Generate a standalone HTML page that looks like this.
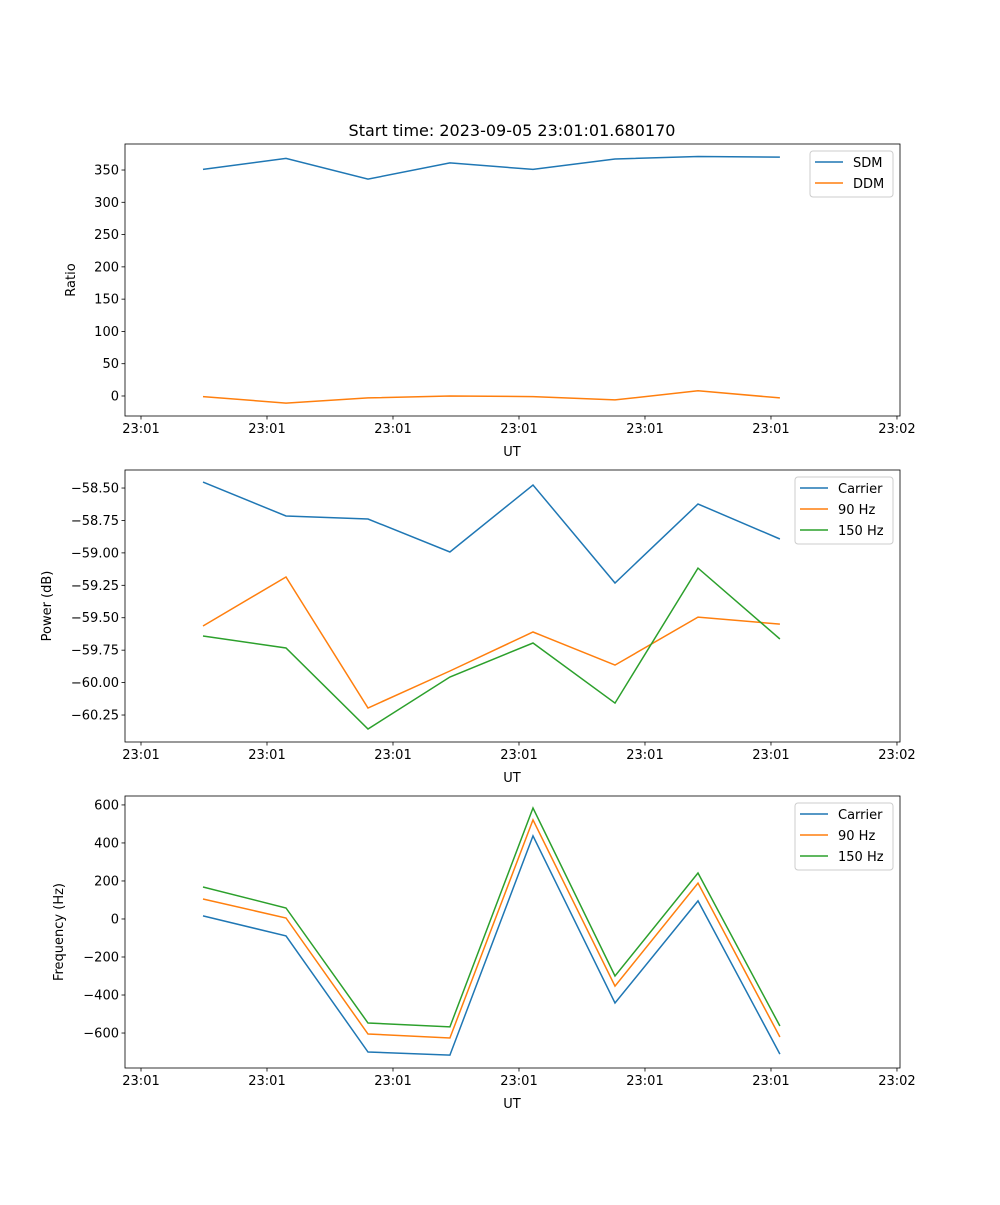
<!DOCTYPE html>
<html><head><meta charset="utf-8"><style>
body{margin:0;background:#fff}
svg text{font-family:"DejaVu Sans","Liberation Sans",sans-serif;fill:#000}
</style></head><body>
<svg id="fig" width="1000" height="1200" xmlns="http://www.w3.org/2000/svg">
<rect width="1000" height="1200" fill="#fff"/>
<text x="512" y="136" font-size="16" text-anchor="middle">Start time: 2023-09-05 23:01:01.680170</text>
</svg>
<script>
const times = [4.92, 11.51, 18.02, 24.52, 31.11, 37.62, 44.21, 50.71];
const xTickVals = [0, 10, 20, 30, 40, 50, 60];
const xTickLabels = ["23:01","23:01","23:01","23:01","23:01","23:01","23:02"];
const sdm = [351, 368, 336, 361, 351, 367, 371, 370];
const ddm = [-1, -11, -3, 0, -1, -6, 8, -3];
const powCarrier = [-58.454, -58.716, -58.739, -58.993, -58.477, -59.232, -58.623, -58.893];
const pow90 = [-59.564, -59.186, -60.196, -59.911, -59.610, -59.865, -59.495, -59.549];
const pow150 = [-59.641, -59.733, -60.358, -59.957, -59.695, -60.158, -59.117, -59.664];
const freqCarrier = [16, -89, -700, -716, 437, -442, 95, -711];
const freq90 = [105, 5, -605, -626, 521, -353, 189, -621];
const freq150 = [168, 58, -547, -568, 584, -300, 242, -563];
const yTicks1 = [0, 50, 100, 150, 200, 250, 300, 350];
const yTicks2 = [-60.25, -60.0, -59.75, -59.5, -59.25, -59.0, -58.75, -58.5];
const yTicks3 = [-600, -400, -200, 0, 200, 400, 600];

const NS = "http://www.w3.org/2000/svg";
const svg = document.getElementById('fig');
function mk(tag, attrs, parent){const e=document.createElementNS(NS,tag);for(const k in attrs)e.setAttribute(k,attrs[k]);(parent||svg).appendChild(e);return e;}
const X0=125, X1=900, XMIN=-1.27, XMAX=60.24;
const xs = v => X0 + (v-XMIN)/(XMAX-XMIN)*(X1-X0);
const C = {blue:'#1f77b4', orange:'#ff7f0e', green:'#2ca02c'};

function panel(name, top, bottom, ymin, ymax, yticks, fmt, ylabel, ylabelX, series, legend){
  const g = mk('g', {});
  
  
  const ys = v => bottom - (v-ymin)/(ymax-ymin)*(bottom-top);
  series.forEach(s=>{
    const p = mk('polyline', {points: times.map((t,i)=>xs(t).toFixed(1)+','+ys(s.data[i]).toFixed(1)).join(' '), fill:'none', stroke:s.color, 'stroke-width':1.5}, g);
    
    
  });
  const fr = mk('rect', {x:X0, y:top, width:X1-X0, height:bottom-top, fill:'none', stroke:'#000', 'stroke-width':0.8}, g);
  
  
  xTickVals.forEach((v,i)=>{
    const x = xs(v);
    mk('line',{x1:x,x2:x,y1:bottom,y2:bottom+3.5,stroke:'#000','stroke-width':0.8},g);
    const t = mk('text',{x:x,y:bottom+17,'font-size':13,'text-anchor':'middle'},g);
    t.textContent = xTickLabels[i];
    
    
  });
  yticks.forEach(v=>{
    const y = ys(v);
    mk('line',{x1:X0-3.5,x2:X0,y1:y,y2:y,stroke:'#000','stroke-width':0.8},g);
    const t = mk('text',{x:X0-6,y:y+4.5,'font-size':13,'text-anchor':'end'},g);
    t.textContent = fmt(v);
    
    
  });
  const xl = mk('text',{x:512,y:bottom+40,'font-size':13,'text-anchor':'middle'},g);
  xl.textContent = 'UT';
  
  
  const yl = mk('text',{x:ylabelX,y:(top+bottom)/2,'font-size':13,'text-anchor':'middle',transform:`rotate(-90 ${ylabelX} ${(top+bottom)/2})`},g);
  yl.textContent = ylabel;
  
  
  const lg = mk('g',{},g);
  
  
  mk('rect',{x:legend.x,y:top+7,width:893-legend.x,height:series.length*21+4,fill:'#fff',stroke:'#ccc',rx:3},lg);
  series.forEach((s,i)=>{
    const y = top+18+i*21;
    mk('line',{x1:legend.x+5,x2:legend.x+33,y1:y,y2:y,stroke:s.color,'stroke-width':1.5},lg);
    const t = mk('text',{x:legend.x+43,y:y+5,'font-size':13},lg);
    t.textContent = s.label;
    
    
  });
}
const fmtInt = v => (v<0?'\u2212':'')+Math.abs(v);
const fmt2 = v => (v<0?'\u2212':'')+Math.abs(v).toFixed(2);
panel('ratio-panel',144,416,-31,390.3,yTicks1,fmtInt,'Ratio',75,
  [{id:'sdm',label:'SDM',data:sdm,color:C.blue},{id:'ddm',label:'DDM',data:ddm,color:C.orange}],{x:810});
panel('power-panel',470,742,-60.458,-58.361,yTicks2,fmt2,'Power (dB)',51,
  [{id:'carrier',label:'Carrier',data:powCarrier,color:C.blue},{id:'hz90',label:'90 Hz',data:pow90,color:C.orange},{id:'hz150',label:'150 Hz',data:pow150,color:C.green}],{x:795});
panel('frequency-panel',796,1068,-784,647,yTicks3,fmtInt,'Frequency (Hz)',63,
  [{id:'carrier',label:'Carrier',data:freqCarrier,color:C.blue},{id:'hz90',label:'90 Hz',data:freq90,color:C.orange},{id:'hz150',label:'150 Hz',data:freq150,color:C.green}],{x:795});
</script>
</body></html>
